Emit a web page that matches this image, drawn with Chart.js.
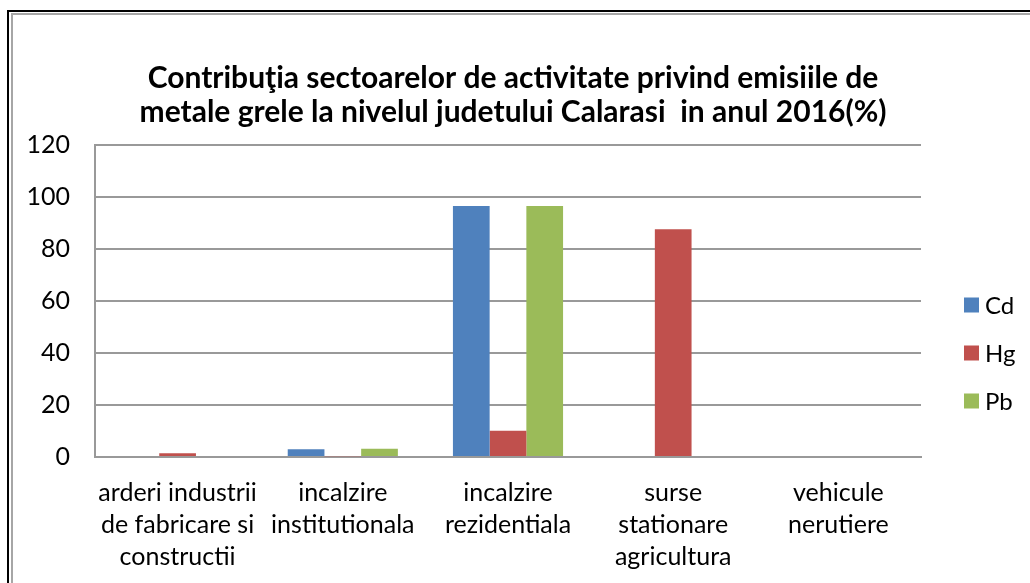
<!DOCTYPE html>
<html>
<head>
<meta charset="utf-8" />
<title>Contributia sectoarelor - metale grele Calarasi 2016</title>
<script src="https://cdn.jsdelivr.net/npm/chart.js@4.4.1/dist/chart.umd.min.js"></script>
<style>
  html, body { margin: 0; padding: 0; background: #fff; overflow: hidden; }
  /* chenarul dublu (negru + gri) din stanga/sus */
  .frame { position: absolute; left: 7px; top: 10px; width: 1100px; height: 700px;
           border-left: 2px solid #000; border-top: 2px solid #000; }
  .frame-inner { position: absolute; left: 2px; top: 1px; width: 1100px; height: 700px;
           border-left: 2px solid #a6a6a6; border-top: 2px solid #a6a6a6; }
  #wrap { position: absolute; left: 13px; top: 14px; width: 1017px; height: 569px; }
</style>
</head>
<body>
<div class="frame"><div class="frame-inner"></div></div>
<div id="wrap"><canvas id="chart"></canvas></div>

<script>
  // date (%)
  const categories = [
    ["arderi industrii", "de fabricare si", "constructii"],
    ["incalzire", "institutionala"],
    ["incalzire", "rezidentiala"],
    ["surse", "stationare", "agricultura"],
    ["vehicule", "nerutiere"]
  ];
  const seriesNames = ["Cd", "Hg", "Pb"];
  const cdValues = [0, 3.0, 96.5, 0, 0];
  const hgValues = [1.4, 0.3, 10.1, 87.6, 0];
  const pbValues = [0, 3.2, 96.5, 0, 0];
  const yTicks = [0, 20, 40, 60, 80, 100, 120];
  const titleLines = [
    "Contribuţia sectoarelor de activitate privind emisiile de",
    "metale grele la nivelul judetului Calarasi  in anul 2016(%)"
  ];

  const colors = ["#4f81bd", "#c0504d", "#9bbb59"];
  const font = "Lato";

  // titlul e centrat pe tot graficul (inclusiv legenda), nu doar pe zona de desen
  const wideTitle = {
    id: "wideTitle",
    afterDraw(chart) {
      const c = chart.ctx;
      c.save();
      c.fillStyle = "#000";
      c.font = "bold 30px " + font;
      c.textAlign = "center";
      c.textBaseline = "middle";
      titleLines.forEach((t, i) => c.fillText(t, 500, 64 + i * 34));
      c.restore();
    }
  };

  // legenda din dreapta, desenata manual (Excel o centreaza altfel decat Chart.js)
  const sideLegend = {
    id: "sideLegend",
    afterDraw(chart) {
      const { ctx, chartArea } = chart;
      const x = chartArea.right + 43;
      const midY = chartArea.bottom - 104;
      ctx.save();
      chart.data.datasets.forEach((ds, i) => {
        const cy = midY + (i - 1) * 48;
        ctx.fillStyle = ds.backgroundColor;
        ctx.fillRect(x, cy - 7.5, 15, 15);
        ctx.fillStyle = "#000";
        ctx.font = "24px " + font;
        ctx.textBaseline = "middle";
        ctx.fillText(ds.label, x + 21, cy + 1);
      });
      ctx.restore();
    }
  };

  const ctx = document.getElementById("chart").getContext("2d");
  new Chart(ctx, {
    type: "bar",
    data: {
      labels: categories,
      datasets: [
        { label: seriesNames[0], data: cdValues, backgroundColor: colors[0] },
        { label: seriesNames[1], data: hgValues, backgroundColor: colors[1] },
        { label: seriesNames[2], data: pbValues, backgroundColor: colors[2] }
      ]
    },
    options: {
      responsive: true,
      maintainAspectRatio: false,
      animation: false,
      layout: { padding: { left: 12, right: 109, top: 131, bottom: 10 } },
      datasets: {
        bar: { categoryPercentage: 3 / 4.5, barPercentage: 1, borderWidth: 0 }
      },
      plugins: {
        legend: { display: false },
        tooltip: { enabled: false },
        title: { display: false }
      },
      scales: {
        x: {
          afterFit(scale) { scale.height = 116; },
          grid: { display: false, drawTicks: false },
          border: { display: true, color: "#999", width: 2 },
          ticks: {
            color: "#000",
            padding: 20,
            maxRotation: 0,
            autoSkip: false,
            font: { family: font, size: 25, lineHeight: 32 / 25 }
          }
        },
        y: {
          min: yTicks[0],
          max: yTicks[yTicks.length - 1],
          afterFit(scale) { scale.width = 70; },
          afterBuildTicks(scale) { scale.ticks = yTicks.map(v => ({ value: v })); },
          grid: { color: "#999", lineWidth: 2, drawTicks: false },
          border: { display: true, color: "#999", width: 2 },
          ticks: {
            color: "#000",
            padding: 25,
            font: { family: font, size: 25 }
          }
        }
      }
    },
    plugins: [wideTitle, sideLegend]
  });
</script>
</body>
</html>
